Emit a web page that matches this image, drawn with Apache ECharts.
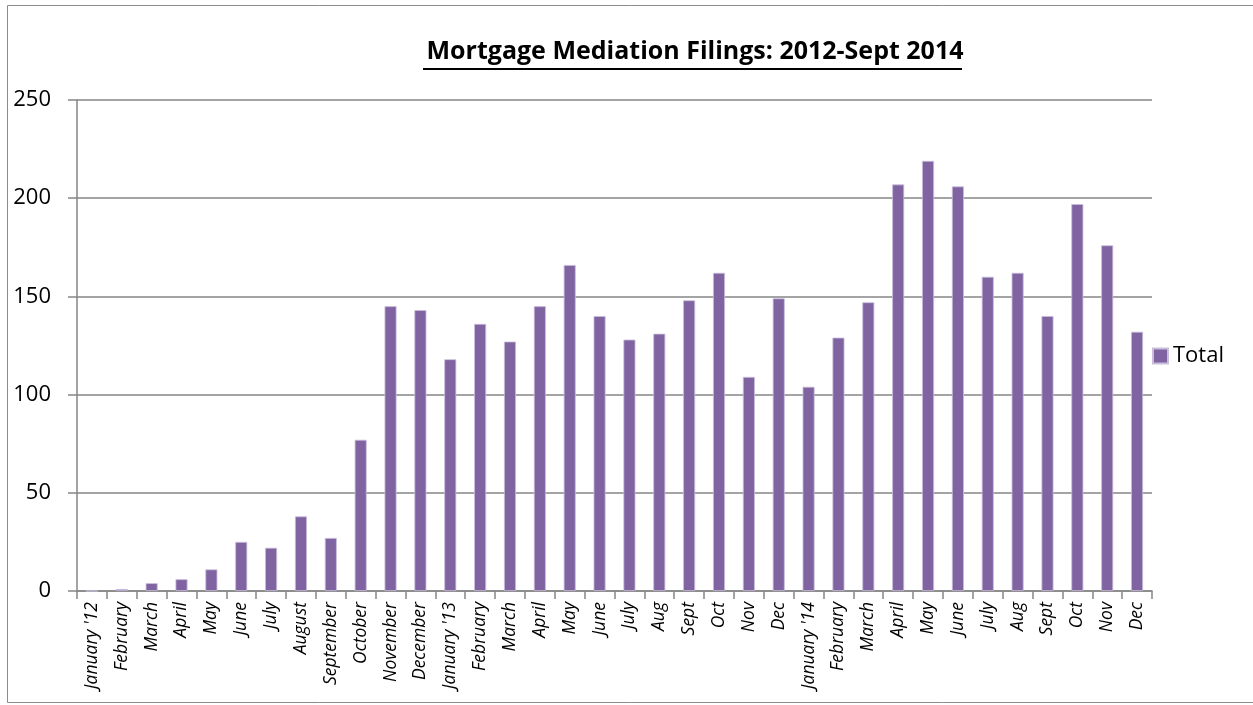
<!DOCTYPE html>
<html>
<head>
<meta charset="utf-8">
<script src="https://cdn.jsdelivr.net/npm/echarts@6/dist/echarts.min.js"></script>
<style>
html,body{margin:0;padding:0;background:#fff;}
#chart{width:1253px;height:705px;}
</style>
</head>
<body>
<div id="chart"></div>
<script>
var categories = ["January '12","February","March","April","May","June","July","August","September","October","November","December",
  "January '13","February","March","April","May","June","July","Aug","Sept","Oct","Nov","Dec",
  "January '14","February","March","April","May","June","July","Aug","Sept","Oct","Nov","Dec"];
var totalValues = [0,1,4,6,11,25,22,38,27,77,145,143,
  118,136,127,145,166,140,128,131,148,162,109,149,
  104,129,147,207,219,206,160,162,140,197,176,132];
var yTicks = [0,50,100,150,200,250];
var titleText = 'Mortgage Mediation Filings: 2012-Sept 2014';
var seriesName = 'Total';

var chart = echarts.init(document.getElementById('chart'), null, {renderer:'canvas'});
var font = '"Open Sans", Lato, sans-serif';
chart.setOption({
  animation:false,
  backgroundColor:'#fff',
  title:{
    text:titleText, left:690, textAlign:'center', top:34,
    textStyle:{fontFamily:font, fontWeight:'bold', fontSize:25, color:'#000'}
  },
  graphic:[
    {type:'rect', shape:{x:7.5,y:5.5,width:1260,height:697}, style:{fill:'none', stroke:'#8c8c8c', lineWidth:1}, silent:true},
    {type:'line', shape:{x1:423,y1:69,x2:962,y2:69}, style:{stroke:'#000', lineWidth:2}, silent:true}
  ],
  legend:{
    data:[seriesName], left:1147, top:340, icon:'rect', itemWidth:15, itemHeight:15, itemGap:8,
    textStyle:{fontFamily:font, fontSize:22, color:'#000'}
  },
  grid:{left:77, right:101, top:100, bottom:114, containLabel:false},
  xAxis:{
    type:'category', data:categories, boundaryGap:true,
    axisLine:{lineStyle:{color:'#868686', width:1.5}},
    axisTick:{show:true, length:8, lineStyle:{color:'#868686', width:1.5}},
    axisLabel:{interval:0, rotate:90, fontFamily:font, fontStyle:'italic', fontSize:17.5, color:'#000', margin:11}
  },
  yAxis:{
    type:'value', min:yTicks[0], max:yTicks[yTicks.length-1], interval:50,
    axisLine:{show:true, lineStyle:{color:'#868686', width:1.5}},
    axisTick:{show:true, length:9, lineStyle:{color:'#868686', width:1.5}},
    axisLabel:{fontFamily:font, fontSize:22, color:'#000', margin:26},
    splitLine:{lineStyle:{color:'#868686', width:1.5}}
  },
  series:[{
    name:seriesName, type:'bar', data:totalValues, barWidth:12,
    itemStyle:{color:'#8064A2', borderColor:'#c9bedc', borderWidth:0.8}
  }]
});
</script>
</body>
</html>
